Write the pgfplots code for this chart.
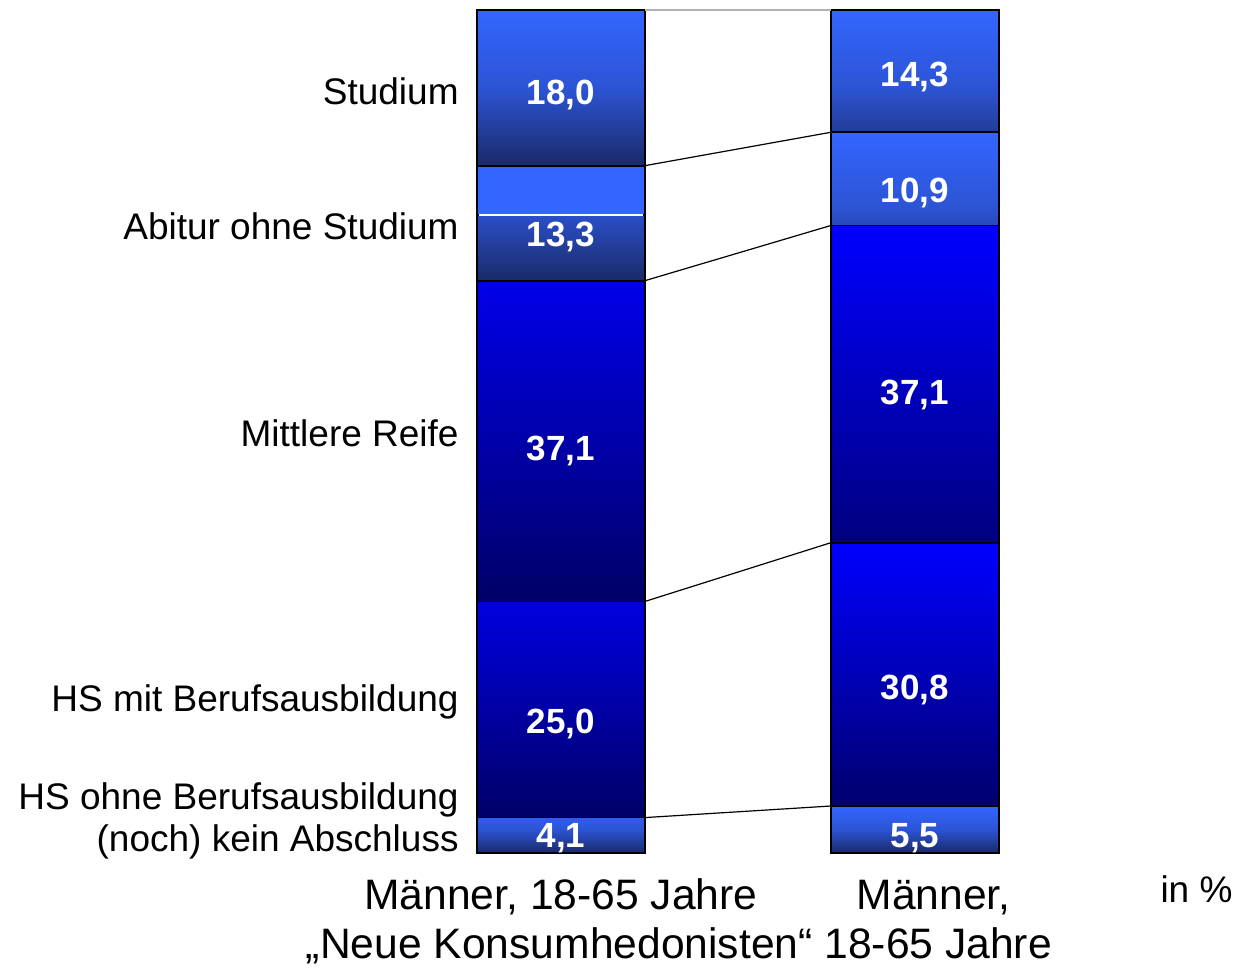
\documentclass[border=0pt]{standalone}
\usepackage{pgfplots}
\pgfplotsset{compat=1.18}
\usepackage{pgfplotstable}
\usepackage{fontspec}
\setmainfont{Liberation Sans}

\definecolor{lightTop}{HTML}{3366FF}
\definecolor{lightMid}{HTML}{2C54D4}
\definecolor{lightBot}{HTML}{1A2A68}
\definecolor{blueTop}{HTML}{0000FF}
\definecolor{blueMid}{HTML}{0000B4}
\definecolor{blueBot}{HTML}{000066}

% segments, bottom to top; s = sum of the bar (bars are drawn to 100)
\pgfplotstableread{
x v s
0 4.1 97.5
1 5.5 98.6
}\segA
\pgfplotstableread{
x v s
0 25.0 97.5
1 30.8 98.6
}\segB
\pgfplotstableread{
x v s
0 37.1 97.5
1 37.1 98.6
}\segC
\pgfplotstableread{
x v s
0 7.6 97.5
1 10.9 98.6
}\segD
\pgfplotstableread{
x v s
0 5.7 97.5
1 0 98.6
}\segE
\pgfplotstableread{
x v s
0 18.0 97.5
1 14.3 98.6
}\segF

% value labels (baseline positions in %)
\pgfplotstableread{
x y t
0 88.85 18,0
0 71.89 13,3
0 46.62 37,1
0 14.12 25,0
0 0.70 4,1
1 90.98 14,3
1 77.22 10,9
1 53.26 37,1
1 18.27 30,8
1 0.70 5,5
}\labels

\pgfplotsset{
  base/.style={scale only axis, width=354pt, height=421.5pt,
    xmin=-0.5, xmax=1.5, ymin=0, ymax=100, axis lines=none, clip=false},
  seg/.style={draw=black, line width=0.9pt},
  light/.style={seg, top color=lightTop, bottom color=lightBot, middle color=lightMid},
  dark/.style={seg, top color=blueTop, bottom color=blueBot, middle color=blueMid},
  flat/.style={seg, fill=lightTop},
  conn/.style={black, line width=0.6pt},
  table/norm/.style={x=x, y expr=\thisrow{v}/\thisrow{s}*100},
}
\tikzset{
  lab/.style={inner sep=0pt, font=\fontsize{18.5}{20}\selectfont},
  cat/.style={inner sep=0pt, font=\fontsize{21.3}{24}\selectfont},
}

\begin{document}
\begin{tikzpicture}
\begin{axis}[base, ybar stacked, bar width=0.4746]
\addplot[light] table[norm] {\segA};
\addplot[dark] table[norm] {\segB};
\addplot[dark] table[norm] {\segC};
\addplot[light] table[norm] {\segD};
\addplot[flat] table[norm] {\segE};
\addplot[light] table[norm] {\segF};
\end{axis}

\begin{axis}[base]
% connectors between the bars (cumulative values)
\addplot[gray!60, line width=0.6pt] table[row sep=\\, norm] {x v s\\ 0.2373 97.5 97.5\\ 0.7627 98.6 98.6\\};
\addplot[conn] table[row sep=\\, norm] {x v s\\ 0.2373 79.5 97.5\\ 0.7627 84.3 98.6\\};
\addplot[conn] table[row sep=\\, norm] {x v s\\ 0.2373 66.2 97.5\\ 0.7627 73.4 98.6\\};
\addplot[conn] table[row sep=\\, norm] {x v s\\ 0.2373 29.1 97.5\\ 0.7627 36.3 98.6\\};
\addplot[conn] table[row sep=\\, norm] {x v s\\ 0.2373 4.1 97.5\\ 0.7627 5.5 98.6\\};
% white split line in the left Abitur segment
\addplot[white, line width=0.9pt] table[row sep=\\, norm] {x v s\\ -0.232 73.8 97.5\\ 0.232 73.8 97.5\\};

\addplot[draw=none, mark=none, nodes near coords, point meta=explicit symbolic,
  nodes near coords style={anchor=base, text=white,
    font=\fontsize{17.5}{18}\selectfont\bfseries}]
  table[x=x, y=y, meta=t] {\labels};

\node[lab, anchor=base east] at (axis cs:-0.2881,88.85) {Studium};
\node[lab, anchor=base east] at (axis cs:-0.2881,72.72) {Abitur ohne Studium};
\node[lab, anchor=base east] at (axis cs:-0.2881,48.28) {Mittlere Reife};
\node[lab, anchor=base east] at (axis cs:-0.2881,16.84) {HS mit Berufsausbildung};
\node[lab, anchor=base east] at (axis cs:-0.2881,5.22) {HS ohne Berufsausbildung};
\node[lab, anchor=base east] at (axis cs:-0.2881,0.24) {(noch) kein Abschluss};

\node[cat, anchor=base] at (axis cs:0,-6.64) {Männer, 18-65 Jahre};
\node[cat, anchor=base] at (axis cs:1.0523,-6.64) {Männer,};
\node[cat, anchor=base] at (axis cs:0.3333,-12.57) {„Neue Konsumhedonisten“ 18-65 Jahre};
\node[lab, anchor=base east] at (axis cs:1.898,-5.81) {in \%};

\path (axis cs:-1.5847,-13.76) rectangle (axis cs:1.9153,101.19);
\end{axis}
\end{tikzpicture}
\end{document}
